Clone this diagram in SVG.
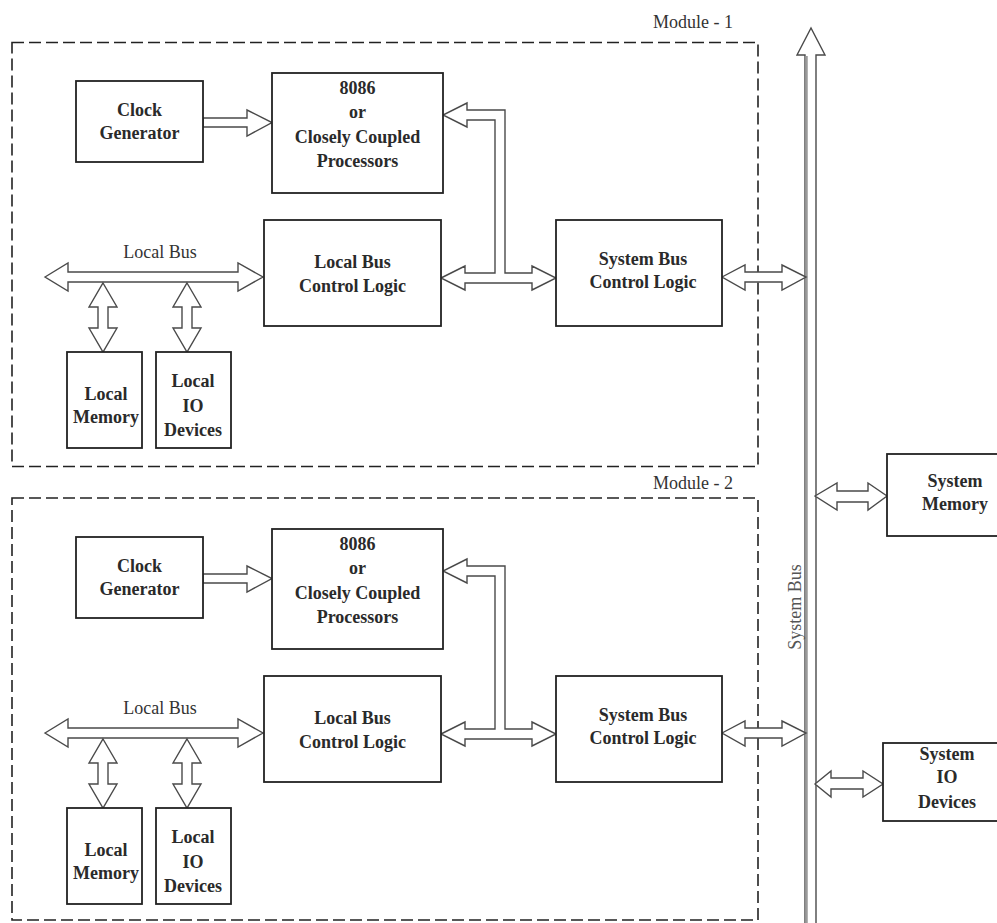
<svg xmlns="http://www.w3.org/2000/svg" width="997" height="923" viewBox="0 0 997 923">
<style>
.bg{fill:#ffffff}
.box{fill:#ffffff;stroke:#222;stroke-width:1.8}
.mod{fill:none;stroke:#222;stroke-width:1.6;stroke-dasharray:12 5}
.arr{fill:#ffffff;stroke:#4a4a4a;stroke-width:1.4;stroke-linejoin:miter}
.t{font-family:"Liberation Serif","Times New Roman",serif;font-size:18px;font-weight:bold;fill:#2a2a2a;text-anchor:middle}
.l{font-family:"Liberation Serif","Times New Roman",serif;font-size:18px;fill:#333;text-anchor:middle}
.sb{font-family:"Liberation Serif","Times New Roman",serif;font-size:18px;fill:#555;text-anchor:middle}
</style>
<rect class="bg" x="0" y="0" width="997" height="923"/>

<!-- Module frames -->
<g id="module1">
  <rect class="mod" x="12" y="42.5" width="746" height="424"/>
  <text class="l" x="693" y="28">Module - 1</text>
</g>
<g id="module2">
  <rect class="mod" x="12" y="498" width="746" height="422"/>
  <text class="l" x="693" y="489">Module - 2</text>
</g>

<!-- Connectors -->
<g id="connectors">
  <!-- System bus -->
  <polygon class="arr" points="805,930 805,55 797,55 811,28 825,55 816,55 816,930"/>
  <line x1="806.5" y1="56" x2="806.5" y2="923" stroke="#9a9a9a" stroke-width="2.5"/>
  <text class="sb" transform="translate(801,607) rotate(-90)">System Bus</text>
  <!-- system memory / IO -->
  <polygon class="arr" points="815,496 837,483 837,491 868,491 868,483 887,496 868,510 868,502 837,502 837,510"/>
  <polygon class="arr" points="815,784 831,771 831,778 863,778 863,771 883,784 863,797 863,789 831,789 831,797"/>
  <g id="conn-m1">
    <polygon class="arr" points="203,118 247,118 247,110 272,122.5 247,136 247,127 203,127"/>
    <polygon class="arr" points="45,277 68,263 68,272 238,272 238,263 263,277 238,291 238,282 68,282 68,291"/>
    <polygon class="arr" points="103,283 117,307 108,307 108,328 117,328 103,352 89,328 98,328 98,307 89,307"/>
    <polygon class="arr" points="187,283 201,307 192,307 192,328 201,328 187,352 173,328 182,328 182,307 173,307"/>
    <polygon class="arr" points="441,278 465,266 465,273 495,273 495,120 467,120 467,127 443,115 467,103 467,110 505,110 505,273 532,273 532,266 556,278 532,290 532,283 465,283 465,290"/>
    <polygon class="arr" points="722,277 745,265 745,272 782,272 782,265 806,277 782,290 782,282 745,282 745,290"/>
  </g>
  <g id="conn-m2" transform="translate(0,456)">
    <polygon class="arr" points="203,118 247,118 247,110 272,122.5 247,136 247,127 203,127"/>
    <polygon class="arr" points="45,277 68,263 68,272 238,272 238,263 263,277 238,291 238,282 68,282 68,291"/>
    <polygon class="arr" points="103,283 117,307 108,307 108,328 117,328 103,352 89,328 98,328 98,307 89,307"/>
    <polygon class="arr" points="187,283 201,307 192,307 192,328 201,328 187,352 173,328 182,328 182,307 173,307"/>
    <polygon class="arr" points="441,278 465,266 465,273 495,273 495,120 467,120 467,127 443,115 467,103 467,110 505,110 505,273 532,273 532,266 556,278 532,290 532,283 465,283 465,290"/>
    <polygon class="arr" points="722,277 745,265 745,272 782,272 782,265 806,277 782,290 782,282 745,282 745,290"/>
  </g>
  <text class="l" x="160" y="258">Local Bus</text>
  <text class="l" x="160" y="714">Local Bus</text>
</g>

<!-- Module 1 nodes -->
<g id="m1-clock">
  <rect class="box" x="76" y="81" width="127" height="81"/>
  <text class="t" x="139.5" y="116">Clock</text>
  <text class="t" x="139.5" y="139">Generator</text>
</g>
<g id="m1-cpu">
  <rect class="box" x="272" y="73" width="171" height="120"/>
  <text class="t" x="357.5" y="94">8086</text>
  <text class="t" x="357.5" y="118">or</text>
  <text class="t" x="357.5" y="143">Closely Coupled</text>
  <text class="t" x="357.5" y="167">Processors</text>
</g>
<g id="m1-lbcl">
  <rect class="box" x="264" y="220" width="177" height="106"/>
  <text class="t" x="352.5" y="268">Local Bus</text>
  <text class="t" x="352.5" y="292">Control Logic</text>
</g>
<g id="m1-sbcl">
  <rect class="box" x="556" y="220" width="166" height="106"/>
  <text class="t" x="643" y="265">System Bus</text>
  <text class="t" x="643" y="288">Control Logic</text>
</g>
<g id="m1-mem">
  <rect class="box" x="67" y="352" width="75" height="96"/>
  <text class="t" x="106" y="400">Local</text>
  <text class="t" x="106" y="423">Memory</text>
</g>
<g id="m1-io">
  <rect class="box" x="156" y="352" width="75" height="96"/>
  <text class="t" x="193" y="387">Local</text>
  <text class="t" x="193" y="412">IO</text>
  <text class="t" x="193" y="436">Devices</text>
</g>

<!-- Module 2 nodes -->
<g id="m2-clock" transform="translate(0,456)">
  <rect class="box" x="76" y="81" width="127" height="81"/>
  <text class="t" x="139.5" y="116">Clock</text>
  <text class="t" x="139.5" y="139">Generator</text>
</g>
<g id="m2-cpu" transform="translate(0,456)">
  <rect class="box" x="272" y="73" width="171" height="120"/>
  <text class="t" x="357.5" y="94">8086</text>
  <text class="t" x="357.5" y="118">or</text>
  <text class="t" x="357.5" y="143">Closely Coupled</text>
  <text class="t" x="357.5" y="167">Processors</text>
</g>
<g id="m2-lbcl" transform="translate(0,456)">
  <rect class="box" x="264" y="220" width="177" height="106"/>
  <text class="t" x="352.5" y="268">Local Bus</text>
  <text class="t" x="352.5" y="292">Control Logic</text>
</g>
<g id="m2-sbcl" transform="translate(0,456)">
  <rect class="box" x="556" y="220" width="166" height="106"/>
  <text class="t" x="643" y="265">System Bus</text>
  <text class="t" x="643" y="288">Control Logic</text>
</g>
<g id="m2-mem" transform="translate(0,456)">
  <rect class="box" x="67" y="352" width="75" height="96"/>
  <text class="t" x="106" y="400">Local</text>
  <text class="t" x="106" y="423">Memory</text>
</g>
<g id="m2-io" transform="translate(0,456)">
  <rect class="box" x="156" y="352" width="75" height="96"/>
  <text class="t" x="193" y="387">Local</text>
  <text class="t" x="193" y="412">IO</text>
  <text class="t" x="193" y="436">Devices</text>
</g>

<!-- Shared system nodes -->
<g id="system-memory">
  <rect class="box" x="887" y="454" width="125" height="82"/>
  <text class="t" x="955" y="487">System</text>
  <text class="t" x="955" y="510">Memory</text>
</g>
<g id="system-io">
  <rect class="box" x="883" y="743" width="125" height="78"/>
  <text class="t" x="947" y="760">System</text>
  <text class="t" x="947" y="783">IO</text>
  <text class="t" x="947" y="808">Devices</text>
</g>
</svg>
